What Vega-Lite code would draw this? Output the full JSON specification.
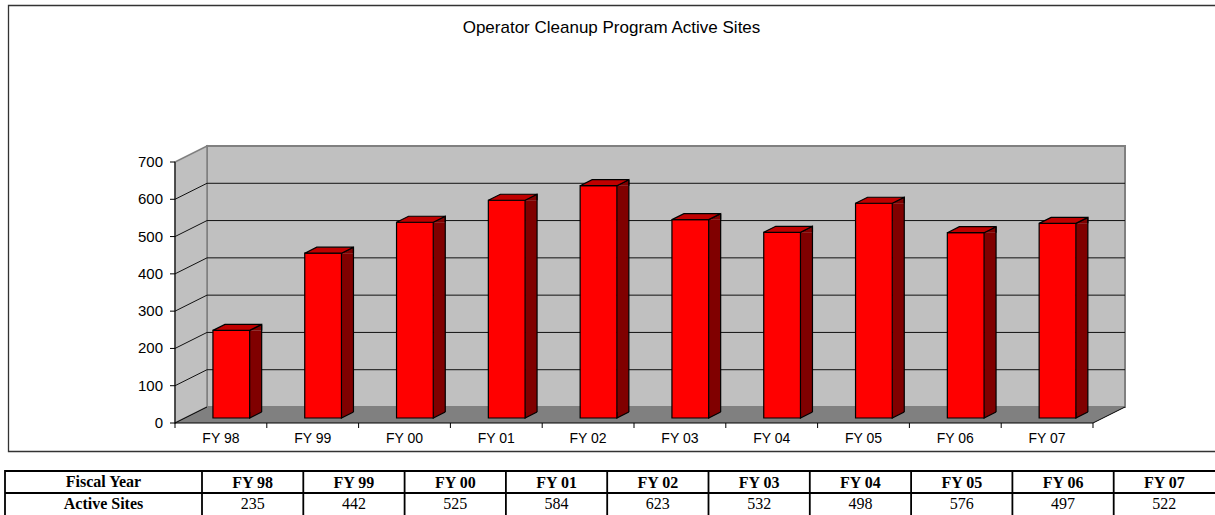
{
  "$schema": "https://vega.github.io/schema/vega-lite/v6.json",
  "width": 1207,
  "height": 510,
  "autosize": {"type": "none"},
  "padding": {"left": 8, "top": 5, "right": 0, "bottom": 0},
  "background": "white",
  "config": {"view": {"stroke": null}},
  "title": {"text": "Operator Cleanup Program Active Sites", "font": "Liberation Sans", "fontSize": 17, "fontWeight": "normal", "color": "#000000", "anchor": "middle", "frame": "group", "offset": -30, "baseline": "bottom", "dx": 0, "dy": 21},
  "datasets": {
    "years": [
      {"year": "FY 98", "sites": 235},
      {"year": "FY 99", "sites": 442},
      {"year": "FY 00", "sites": 525},
      {"year": "FY 01", "sites": 584},
      {"year": "FY 02", "sites": 623},
      {"year": "FY 03", "sites": 532},
      {"year": "FY 04", "sites": 498},
      {"year": "FY 05", "sites": 576},
      {"year": "FY 06", "sites": 497},
      {"year": "FY 07", "sites": 522}
    ],
    "ticks": [{"v": 0}, {"v": 100}, {"v": 200}, {"v": 300}, {"v": 400}, {"v": 500}, {"v": 600}, {"v": 700}],
    "rows": [{"row": "Fiscal Year"}, {"row": "Active Sites"}],
    "anchor": [{"a": 1}]
  },
  "layer": [
    {
      "layer": [
        {
          "data": {"name": "anchor"},
          "mark": {"type": "point", "shape": "M1010,28.5L-212.4,28.5L-212.4,-417.5L1010,-417.5", "size": 4, "filled": false, "stroke": "#333333", "strokeWidth": 1.3, "opacity": 1},
          "encoding": {
            "x": {"datum": "FY 98", "type": "nominal", "scale": {"type": "band", "domain": ["FY 98","FY 99","FY 00","FY 01","FY 02","FY 03","FY 04","FY 05","FY 06","FY 07"], "range": [167, 1085], "paddingInner": 0, "paddingOuter": 0}, "axis": null},
            "y": {"datum": 0, "type": "quantitative", "scale": {"type": "linear", "domain": [0, 700], "range": [418, 157], "nice": false, "zero": false}, "axis": null}
          }
        },
        {
          "data": {"name": "anchor"},
          "mark": {"type": "point", "shape": "M-13.9,-16L-13.9,-277L904.1,-277L904.1,-16Z", "size": 4, "filled": true, "fill": "#C0C0C0", "stroke": "#808080", "strokeWidth": 2, "opacity": 1},
          "encoding": {
            "x": {"datum": "FY 98", "type": "nominal", "scale": {"type": "band", "domain": ["FY 98","FY 99","FY 00","FY 01","FY 02","FY 03","FY 04","FY 05","FY 06","FY 07"], "range": [167, 1085], "paddingInner": 0, "paddingOuter": 0}, "axis": null},
            "y": {"datum": 0, "type": "quantitative", "scale": {"type": "linear", "domain": [0, 700], "range": [418, 157], "nice": false, "zero": false}, "axis": null}
          }
        },
        {
          "data": {"name": "anchor"},
          "mark": {"type": "point", "shape": "M-45.9,0L-45.9,-261L-13.9,-277L-13.9,-16Z", "size": 4, "filled": true, "fill": "#C0C0C0", "stroke": "#808080", "strokeWidth": 1.5, "opacity": 1},
          "encoding": {
            "x": {"datum": "FY 98", "type": "nominal", "scale": {"type": "band", "domain": ["FY 98","FY 99","FY 00","FY 01","FY 02","FY 03","FY 04","FY 05","FY 06","FY 07"], "range": [167, 1085], "paddingInner": 0, "paddingOuter": 0}, "axis": null},
            "y": {"datum": 0, "type": "quantitative", "scale": {"type": "linear", "domain": [0, 700], "range": [418, 157], "nice": false, "zero": false}, "axis": null}
          }
        },
        {
          "data": {"name": "ticks"},
          "transform": [{"filter": "datum.v > 0 && datum.v < 700"}],
          "mark": {"type": "point", "shape": "M-45.9,0L-13.9,-16L904.1,-16", "size": 4, "filled": false, "stroke": "#111111", "strokeWidth": 1, "opacity": 1},
          "encoding": {
            "x": {"datum": "FY 98", "type": "nominal", "scale": {"type": "band", "domain": ["FY 98","FY 99","FY 00","FY 01","FY 02","FY 03","FY 04","FY 05","FY 06","FY 07"], "range": [167, 1085], "paddingInner": 0, "paddingOuter": 0}, "axis": null},
            "y": {"field": "v", "type": "quantitative", "scale": {"type": "linear", "domain": [0, 700], "range": [418, 157], "nice": false, "zero": false}, "axis": null}
          }
        },
        {
          "data": {"name": "anchor"},
          "mark": {"type": "point", "shape": "M-13.9,-16L-45.9,0L872.1,0L904.1,-16", "size": 4, "filled": true, "fill": "#808080", "stroke": "#000000", "strokeWidth": 1, "opacity": 1},
          "encoding": {
            "x": {"datum": "FY 98", "type": "nominal", "scale": {"type": "band", "domain": ["FY 98","FY 99","FY 00","FY 01","FY 02","FY 03","FY 04","FY 05","FY 06","FY 07"], "range": [167, 1085], "paddingInner": 0, "paddingOuter": 0}, "axis": null},
            "y": {"datum": 0, "type": "quantitative", "scale": {"type": "linear", "domain": [0, 700], "range": [418, 157], "nice": false, "zero": false}, "axis": null}
          }
        },
        {
          "data": {"name": "ticks"},
          "mark": {"type": "point", "shape": "M-50.9,0L-45.9,0", "size": 4, "filled": false, "stroke": "#000000", "strokeWidth": 1, "opacity": 1},
          "encoding": {
            "x": {"datum": "FY 98", "type": "nominal", "scale": {"type": "band", "domain": ["FY 98","FY 99","FY 00","FY 01","FY 02","FY 03","FY 04","FY 05","FY 06","FY 07"], "range": [167, 1085], "paddingInner": 0, "paddingOuter": 0}, "axis": null},
            "y": {"field": "v", "type": "quantitative", "scale": {"type": "linear", "domain": [0, 700], "range": [418, 157], "nice": false, "zero": false}, "axis": null}
          }
        },
        {
          "data": {"name": "anchor"},
          "mark": {"type": "point", "shape": "M-45.9,0L-45.9,-261", "size": 4, "filled": false, "stroke": "#000000", "strokeWidth": 1, "opacity": 1},
          "encoding": {
            "x": {"datum": "FY 98", "type": "nominal", "scale": {"type": "band", "domain": ["FY 98","FY 99","FY 00","FY 01","FY 02","FY 03","FY 04","FY 05","FY 06","FY 07"], "range": [167, 1085], "paddingInner": 0, "paddingOuter": 0}, "axis": null},
            "y": {"datum": 0, "type": "quantitative", "scale": {"type": "linear", "domain": [0, 700], "range": [418, 157], "nice": false, "zero": false}, "axis": null}
          }
        },
        {
          "data": {"name": "ticks"},
          "mark": {"type": "text", "font": "Liberation Sans", "fontSize": 15, "color": "#000000", "align": "right", "baseline": "middle", "xOffset": -57.9},
          "encoding": {
            "x": {"datum": "FY 98", "type": "nominal", "scale": {"type": "band", "domain": ["FY 98","FY 99","FY 00","FY 01","FY 02","FY 03","FY 04","FY 05","FY 06","FY 07"], "range": [167, 1085], "paddingInner": 0, "paddingOuter": 0}, "axis": null},
            "y": {"field": "v", "type": "quantitative", "scale": {"type": "linear", "domain": [0, 700], "range": [418, 157], "nice": false, "zero": false}, "axis": null},
            "text": {"field": "v", "type": "quantitative"}
          }
        },
        {
          "data": {"name": "years"},
          "mark": {"type": "point", "shape": "M-45.9,0L-45.9,5", "size": 4, "filled": false, "stroke": "#000000", "strokeWidth": 1, "opacity": 1},
          "encoding": {
            "x": {"field": "year", "type": "nominal", "scale": {"type": "band", "domain": ["FY 98","FY 99","FY 00","FY 01","FY 02","FY 03","FY 04","FY 05","FY 06","FY 07"], "range": [167, 1085], "paddingInner": 0, "paddingOuter": 0}, "axis": null},
            "y": {"datum": 0, "type": "quantitative", "scale": {"type": "linear", "domain": [0, 700], "range": [418, 157], "nice": false, "zero": false}, "axis": null}
          }
        },
        {
          "data": {"name": "anchor"},
          "mark": {"type": "point", "shape": "M45.9,0L45.9,5", "size": 4, "filled": false, "stroke": "#000000", "strokeWidth": 1, "opacity": 1},
          "encoding": {
            "x": {"datum": "FY 07", "type": "nominal", "scale": {"type": "band", "domain": ["FY 98","FY 99","FY 00","FY 01","FY 02","FY 03","FY 04","FY 05","FY 06","FY 07"], "range": [167, 1085], "paddingInner": 0, "paddingOuter": 0}, "axis": null},
            "y": {"datum": 0, "type": "quantitative", "scale": {"type": "linear", "domain": [0, 700], "range": [418, 157], "nice": false, "zero": false}, "axis": null}
          }
        },
        {
          "data": {"name": "years"},
          "mark": {"type": "text", "font": "Liberation Sans", "fontSize": 14, "color": "#000000", "align": "center", "baseline": "middle", "yOffset": 16},
          "encoding": {
            "x": {"field": "year", "type": "nominal", "scale": {"type": "band", "domain": ["FY 98","FY 99","FY 00","FY 01","FY 02","FY 03","FY 04","FY 05","FY 06","FY 07"], "range": [167, 1085], "paddingInner": 0, "paddingOuter": 0}, "axis": null},
            "y": {"datum": 0, "type": "quantitative", "scale": {"type": "linear", "domain": [0, 700], "range": [418, 157], "nice": false, "zero": false}, "axis": null},
            "text": {"field": "year"}
          }
        },
        {
          "data": {"name": "years"},
          "mark": {"type": "bar", "width": 12, "xOffset": 34.76, "yOffset": -5, "y2Offset": -11, "fill": "#800000", "strokeWidth": 0, "opacity": 1},
          "encoding": {
            "x": {"field": "year", "type": "nominal", "scale": {"type": "band", "domain": ["FY 98","FY 99","FY 00","FY 01","FY 02","FY 03","FY 04","FY 05","FY 06","FY 07"], "range": [167, 1085], "paddingInner": 0, "paddingOuter": 0}, "axis": null},
            "y": {"field": "sites", "type": "quantitative", "scale": {"type": "linear", "domain": [0, 700], "range": [418, 157], "nice": false, "zero": false}, "axis": null},
            "y2": {"datum": 0}
          }
        },
        {
          "data": {"name": "years"},
          "mark": {"type": "point", "shape": "M18.36,-6L18.36,0L30.36,-6", "size": 4, "filled": true, "fill": "#800000", "stroke": "#000000", "strokeWidth": 1.2, "opacity": 1, "xOffset": 10.4, "yOffset": -5},
          "encoding": {
            "x": {"field": "year", "type": "nominal", "scale": {"type": "band", "domain": ["FY 98","FY 99","FY 00","FY 01","FY 02","FY 03","FY 04","FY 05","FY 06","FY 07"], "range": [167, 1085], "paddingInner": 0, "paddingOuter": 0}, "axis": null},
            "y": {"datum": 0, "type": "quantitative", "scale": {"type": "linear", "domain": [0, 700], "range": [418, 157], "nice": false, "zero": false}, "axis": null}
          }
        },
        {
          "data": {"name": "years"},
          "mark": {"type": "point", "shape": "M18.36,0L30.36,-6L30.36,0", "size": 4, "filled": true, "fill": "#800000", "stroke": "#000000", "strokeWidth": 1.2, "opacity": 1, "xOffset": 10.4, "yOffset": -5},
          "encoding": {
            "x": {"field": "year", "type": "nominal", "scale": {"type": "band", "domain": ["FY 98","FY 99","FY 00","FY 01","FY 02","FY 03","FY 04","FY 05","FY 06","FY 07"], "range": [167, 1085], "paddingInner": 0, "paddingOuter": 0}, "axis": null},
            "y": {"field": "sites", "type": "quantitative", "scale": {"type": "linear", "domain": [0, 700], "range": [418, 157], "nice": false, "zero": false}, "axis": null}
          }
        },
        {
          "data": {"name": "years"},
          "mark": {"type": "bar", "width": {"band": 0.4}, "xOffset": 10.4, "yOffset": -5, "y2Offset": -5, "fill": "#FF0000", "stroke": "#000000", "strokeWidth": 1.2, "opacity": 1},
          "encoding": {
            "x": {"field": "year", "type": "nominal", "scale": {"type": "band", "domain": ["FY 98","FY 99","FY 00","FY 01","FY 02","FY 03","FY 04","FY 05","FY 06","FY 07"], "range": [167, 1085], "paddingInner": 0, "paddingOuter": 0}, "axis": null},
            "y": {"field": "sites", "type": "quantitative", "scale": {"type": "linear", "domain": [0, 700], "range": [418, 157], "nice": false, "zero": false}, "axis": null},
            "y2": {"datum": 0}
          }
        },
        {
          "data": {"name": "years"},
          "mark": {"type": "point", "shape": "M-18.36,0L18.36,0L30.36,-6L-6.36,-6Z", "size": 4, "filled": true, "fill": "#C00000", "stroke": "#000000", "strokeWidth": 1.2, "opacity": 1, "xOffset": 10.4, "yOffset": -5},
          "encoding": {
            "x": {"field": "year", "type": "nominal", "scale": {"type": "band", "domain": ["FY 98","FY 99","FY 00","FY 01","FY 02","FY 03","FY 04","FY 05","FY 06","FY 07"], "range": [167, 1085], "paddingInner": 0, "paddingOuter": 0}, "axis": null},
            "y": {"field": "sites", "type": "quantitative", "scale": {"type": "linear", "domain": [0, 700], "range": [418, 157], "nice": false, "zero": false}, "axis": null}
          }
        },
        {
          "data": {"name": "years"},
          "mark": {"type": "rule", "xOffset": 40.76, "yOffset": -11, "y2Offset": -11, "stroke": "#000000", "strokeWidth": 1.2, "opacity": 1},
          "encoding": {
            "x": {"field": "year", "type": "nominal", "scale": {"type": "band", "domain": ["FY 98","FY 99","FY 00","FY 01","FY 02","FY 03","FY 04","FY 05","FY 06","FY 07"], "range": [167, 1085], "paddingInner": 0, "paddingOuter": 0}, "axis": null},
            "y": {"field": "sites", "type": "quantitative", "scale": {"type": "linear", "domain": [0, 700], "range": [418, 157], "nice": false, "zero": false}, "axis": null},
            "y2": {"datum": 0}
          }
        }
      ]
    },
    {
      "layer": [
        {
          "data": {"name": "years"},
          "mark": {"type": "point", "shape": "M-50.65,33L-50.65,-11L50.65,-11M-50.65,11L50.65,11", "size": 4, "filled": false, "stroke": "#000000", "strokeWidth": 1.8, "opacity": 1},
          "encoding": {
            "x": {"field": "year", "type": "nominal", "scale": {"type": "band", "domain": ["FY 98","FY 99","FY 00","FY 01","FY 02","FY 03","FY 04","FY 05","FY 06","FY 07"], "range": [194, 1207], "paddingInner": 0, "paddingOuter": 0}, "axis": null},
            "y": {"datum": "Fiscal Year", "type": "nominal", "scale": {"type": "band", "domain": ["Fiscal Year", "Active Sites"], "range": [466, 510], "paddingInner": 0, "paddingOuter": 0}, "axis": null}
          }
        },
        {
          "data": {"name": "anchor"},
          "mark": {"type": "point", "shape": "M-247.65,33L-247.65,-11L-50.65,-11M-247.65,11L-50.65,11", "size": 4, "filled": false, "stroke": "#000000", "strokeWidth": 1.8, "opacity": 1},
          "encoding": {
            "x": {"datum": "FY 98", "type": "nominal", "scale": {"type": "band", "domain": ["FY 98","FY 99","FY 00","FY 01","FY 02","FY 03","FY 04","FY 05","FY 06","FY 07"], "range": [194, 1207], "paddingInner": 0, "paddingOuter": 0}, "axis": null},
            "y": {"datum": "Fiscal Year", "type": "nominal", "scale": {"type": "band", "domain": ["Fiscal Year", "Active Sites"], "range": [466, 510], "paddingInner": 0, "paddingOuter": 0}, "axis": null}
          }
        },
        {
          "data": {"name": "years"},
          "mark": {"type": "text", "font": "Liberation Serif", "fontSize": 16, "fontWeight": "bold", "color": "#000000", "baseline": "middle", "align": "center", "dy": 1},
          "encoding": {
            "x": {"field": "year", "type": "nominal", "scale": {"type": "band", "domain": ["FY 98","FY 99","FY 00","FY 01","FY 02","FY 03","FY 04","FY 05","FY 06","FY 07"], "range": [194, 1207], "paddingInner": 0, "paddingOuter": 0}, "axis": null},
            "y": {"datum": "Fiscal Year", "type": "nominal", "scale": {"type": "band", "domain": ["Fiscal Year", "Active Sites"], "range": [466, 510], "paddingInner": 0, "paddingOuter": 0}, "axis": null},
            "text": {"field": "year"}
          }
        },
        {
          "data": {"name": "years"},
          "mark": {"type": "text", "font": "Liberation Serif", "fontSize": 16, "fontWeight": "normal", "color": "#000000", "baseline": "middle", "align": "center"},
          "encoding": {
            "x": {"field": "year", "type": "nominal", "scale": {"type": "band", "domain": ["FY 98","FY 99","FY 00","FY 01","FY 02","FY 03","FY 04","FY 05","FY 06","FY 07"], "range": [194, 1207], "paddingInner": 0, "paddingOuter": 0}, "axis": null},
            "y": {"datum": "Active Sites", "type": "nominal", "scale": {"type": "band", "domain": ["Fiscal Year", "Active Sites"], "range": [466, 510], "paddingInner": 0, "paddingOuter": 0}, "axis": null},
            "text": {"field": "sites", "type": "quantitative"}
          }
        },
        {
          "data": {"name": "rows"},
          "mark": {"type": "text", "font": "Liberation Serif", "fontSize": 16, "fontWeight": "bold", "color": "#000000", "baseline": "middle", "align": "center", "xOffset": -149.15},
          "encoding": {
            "x": {"datum": "FY 98", "type": "nominal", "scale": {"type": "band", "domain": ["FY 98","FY 99","FY 00","FY 01","FY 02","FY 03","FY 04","FY 05","FY 06","FY 07"], "range": [194, 1207], "paddingInner": 0, "paddingOuter": 0}, "axis": null},
            "y": {"field": "row", "type": "nominal", "scale": {"type": "band", "domain": ["Fiscal Year", "Active Sites"], "range": [466, 510], "paddingInner": 0, "paddingOuter": 0}, "axis": null},
            "text": {"field": "row"}
          }
        }
      ]
    }
  ],
  "resolve": {"scale": {"x": "independent", "y": "independent"}}
}
